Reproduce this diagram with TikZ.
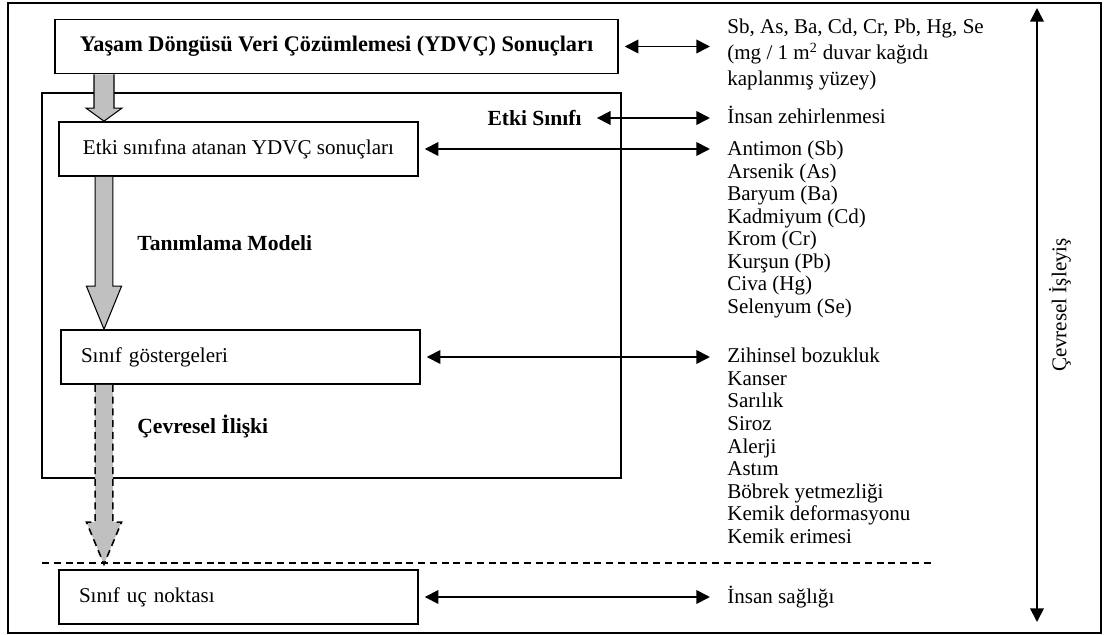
\documentclass[tikz,border=0pt]{standalone}
\usepackage{fontspec}
\setmainfont{Liberation Serif}
\usetikzlibrary{arrows.meta,calc}
\definecolor{blockgray}{RGB}{192,192,192}
\newcommand{\px}{0.57pt}
\newcommand{\normfont}{\fontsize{12}{14}\selectfont}
% #2 from node, #3 to node, #4 shaft half, #5 head half, #6 head length, #7 gap at tip
\newcommand{\blockdown}[7][]{%
  \filldraw[blockarr,#1] let \p1=(#2.south -| col), \p2=(#3.north -| col) in
    (\x1-#4,\y1) -- (\x1-#4,\y2+#7+#6) -- (\x1-#5,\y2+#7+#6) -- (\x1,\y2+#7)
    -- (\x1+#5,\y2+#7+#6) -- (\x1+#4,\y2+#7+#6) -- (\x1+#4,\y1);}

\begin{document}
\begin{tikzpicture}[
    x=\px, y=-\px,
    txt/.style={font=\normfont, inner sep=0pt},
    boldtxt/.style={txt, font=\fontsize{12.3}{14}\selectfont\bfseries},
    item/.style={txt, anchor=base west},
    box/.style={draw, line width=0.9pt, font=\normfont, minimum height=30.8pt, inner sep=0pt},
    leftbox/.style={box, text width=181.8pt, inner xsep=11.4pt, align=left},
    dbl/.style={{Triangle[length=7.8pt,width=7.8pt]}-{Triangle[length=7.8pt,width=7.8pt]}, line width=1pt},
    blockarr/.style={draw=black, fill=blockgray, line width=0.6pt, line join=miter},
    dashline/.style={line width=0.9pt, dash pattern=on 4pt off 2.7pt}
]
\useasboundingbox (0,0) rectangle (1104,635);
\draw[line width=0.9pt] (8,3) rectangle (1101,633);
\draw[line width=0.9pt] (42,93) rectangle (621,478);
\coordinate (col) at (104,0);

\node[box, minimum width=320.9pt, font=\fontsize{12.7}{14}\selectfont\bfseries] (ydvc) at (336.5,46.5)
    {Yaşam Döngüsü Veri Çözümlemesi (YDVÇ) Sonuçları};
\node[box, minimum width=204.6pt] (etkibox) at (238.5,149) {Etki sınıfına atanan YDVÇ sonuçları};
\node[leftbox] (gosterge) at (240.5,357) {Sınıf göstergeleri};
\node[leftbox] (ucnokta) at (238.5,597) {Sınıf uç noktası};

\node[boldtxt, anchor=east] (etkisinifi) at (582,118) {Etki Sınıfı};
\node[boldtxt, anchor=west] (tanimlama) at (137,243) {Tanımlama Modeli};
\node[boldtxt, anchor=west] (iliski) at (137,426) {Çevresel İlişki};

\node[item] (sb) at (727,34) {Sb, As, Ba, Cd, Cr, Pb, Hg, Se};
\node[item] (mg) at (727,60) {(mg / 1 m\textsuperscript{2} duvar kağıdı};
\node[item] (kaplama) at (727,86) {kaplanmış yüzey)};
\node[item] (zehir) at (727,124) {İnsan zehirlenmesi};
\foreach \el [count=\i] in {{Antimon (Sb)},{Arsenik (As)},{Baryum (Ba)},{Kadmiyum (Cd)},
    {Krom (Cr)},{Kurşun (Pb)},{Civa (Hg)},{Selenyum (Se)}}
  \node[item] (el\i) at (727,{156+(\i-1)*22.5}) {\el};
\foreach \hs [count=\i] in {Zihinsel bozukluk,Kanser,Sarılık,Siroz,Alerji,Astım,
    Böbrek yetmezliği,Kemik deformasyonu,Kemik erimesi}
  \node[item] (hs\i) at (727,{363+(\i-1)*22.5}) {\hs};
\node[item] (saglik) at (727,603) {İnsan sağlığı};

\draw[dbl, shorten <=3.4pt, shorten >=9.7pt] (ydvc.east) -- (ydvc.east -| sb.west);
\draw[dbl, shorten <=8.5pt, shorten >=9.7pt] (etkisinifi.east) -- (etkisinifi.east -| zehir.west);
\draw[dbl, shorten <=3.4pt, shorten >=9.7pt] (etkibox.east) -- (etkibox.east -| el1.west);
\draw[dbl, shorten <=3.4pt, shorten >=9.7pt] (gosterge.east) -- (gosterge.east -| hs1.west);
\draw[dbl, shorten <=3.4pt, shorten >=9.7pt] (ucnokta.east) -- (ucnokta.east -| saglik.west);

\coordinate (dl) at (42,563);
\coordinate (dr) at (935,563);
\draw[dashline] (dl) -- (dr);

\blockdown{ydvc}{etkibox}{5.7pt}{10.3pt}{7.5pt}{0pt}
\blockdown{etkibox}{gosterge}{5.1pt}{10pt}{24.5pt}{0pt}
\blockdown[dashline]{gosterge}{ucnokta}{5.1pt}{10pt}{24pt}{2.8pt}

\coordinate (vtop) at (1037,8);
\coordinate (vbot) at (1037,622);
\draw[dbl] (vtop) -- (vbot);
\node[txt, rotate=90] (isleyis) at (1060,305) {Çevresel İşleyiş};
\end{tikzpicture}
\end{document}
